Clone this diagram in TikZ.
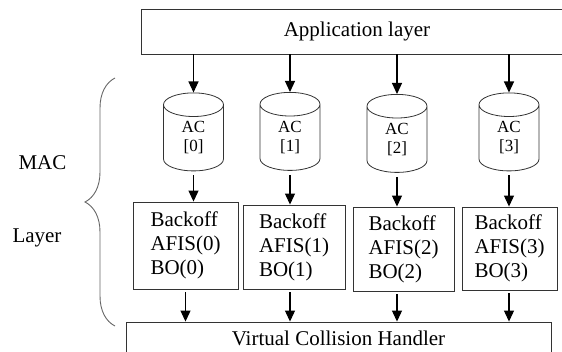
\documentclass[tikz,border=0pt]{standalone}
\usepackage{fontspec}
\setmainfont{Liberation Serif}
\usepackage{xcolor}
\usetikzlibrary{shapes.geometric,arrows.meta,positioning,calc,decorations.pathreplacing}
\definecolor{boxgray}{HTML}{333333}
\definecolor{bracegray}{HTML}{666666}

\begin{document}
\begin{tikzpicture}[x=1pt, y=-1pt,
    every node/.style={font=\fontsize{21}{24}\selectfont},
    layerbox/.style={draw=boxgray, line width=0.9pt, inner sep=0pt},
    queue/.style={draw=boxgray, line width=0.8pt, cylinder, shape border rotate=90, aspect=1,
        minimum width=60pt, minimum height=78pt, inner sep=0pt, align=center,
        font=\fontsize{17}{19}\selectfont},
    backoff/.style={layerbox, align=left},
    arr/.style={-{Triangle[length=11pt,width=10pt]}, line width=1.1pt}]
    \path[use as bounding box, clip] (0,0) rectangle (562,351);

    \node[layerbox, minimum width=432pt, minimum height=45pt] (app) at (357,31.5) {Application layer};

    \node[queue] (ac0) at (193.5,138) {AC\\{[0]}};
    \node[queue] (ac1) at (290,137.5) {AC\\{[1]}};
    \node[queue] (ac2) at (397,139.5) {AC\\{[2]}};
    \node[queue] (ac3) at (509,138) {AC\\{[3]}};

    \node[backoff, minimum width=105pt, minimum height=87pt] (bo0) at (185.5,245.5) {Backoff\\AFIS(0)\\BO(0)};
    \node[backoff, minimum width=102pt, minimum height=84pt] (bo1) at (294,247) {Backoff\\AFIS(1)\\BO(1)};
    \node[backoff, minimum width=101pt, minimum height=84pt] (bo2) at (403.5,249) {Backoff\\AFIS(2)\\BO(2)};
    \node[backoff, minimum width=95pt, minimum height=83pt] (bo3) at (509.5,248.5) {Backoff\\AFIS(3)\\BO(3)};

    \node[layerbox, minimum width=425pt, minimum height=32pt] (vch) at (338.5,338) {Virtual Collision Handler};

    \node (mac) at (42.5,163) {MAC};
    \node (layer) at (37,238) {Layer};
    \draw[bracegray, line width=0.9pt, decorate, decoration={brace, amplitude=30pt}] (115,326) -- (115,78);

    \draw[arr] (ac0.north |- app.south) -- (ac0.north);
    \draw[arr] (ac1.north |- app.south) -- (ac1.north);
    \draw[arr] (ac2.north |- app.south) -- (ac2.north);
    \draw[arr] (ac3.north |- app.south) -- (ac3.north);

    \draw[arr, shorten <=4pt] (ac0.south) -- (ac0.south |- bo0.north);
    \draw[arr, shorten <=4pt] (ac1.south) -- (ac1.south |- bo1.north);
    \draw[arr, shorten <=4pt] (ac2.south) -- (ac2.south |- bo2.north);
    \draw[arr, shorten <=4pt] (ac3.south) -- (ac3.south |- bo3.north);

    \draw[arr, shorten <=3pt] (bo0.south) -- (bo0.south |- vch.north);
    \draw[arr, shorten <=3pt] (bo1.south -| ac1) -- (vch.north -| ac1);
    \draw[arr, shorten <=3pt] (bo2.south -| ac2) -- (vch.north -| ac2);
    \draw[arr, shorten <=3pt] (bo3.south -| ac3) -- (vch.north -| ac3);
\end{tikzpicture}
\end{document}
